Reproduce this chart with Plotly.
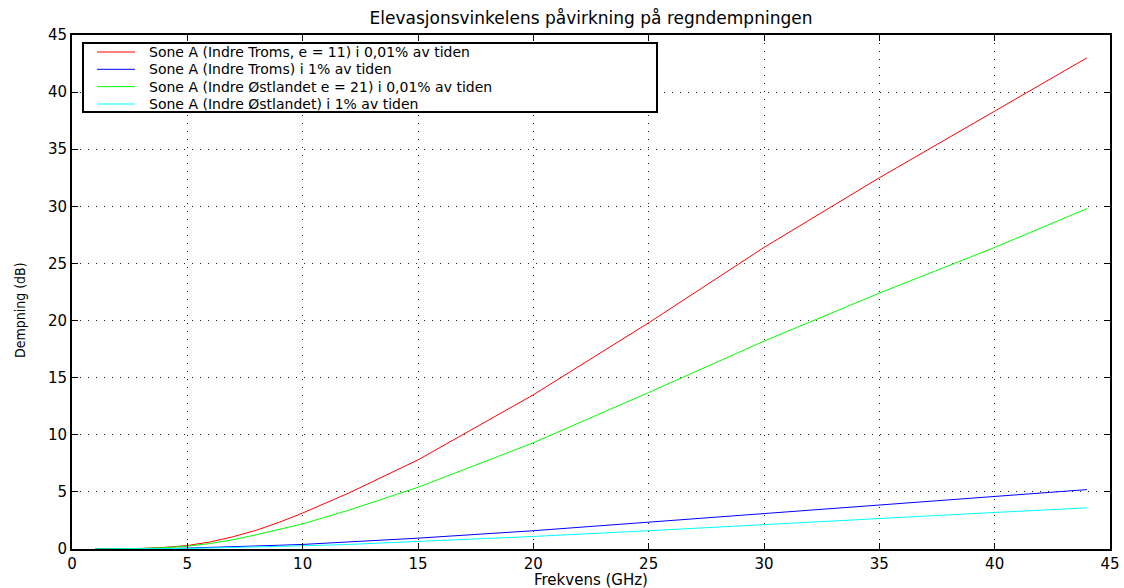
import plotly.graph_objects as go

freq = [1, 2, 3, 4, 5, 6, 7, 8, 9, 10, 12, 15, 20, 25, 30, 35, 40, 44]
red = [0.0, 0.01, 0.05, 0.14, 0.3, 0.62, 1.08, 1.65, 2.35, 3.15, 4.9, 7.8, 13.5, 19.8, 26.4, 32.5, 38.3, 43.0]
blue = [0.0, 0.0, 0.01, 0.04, 0.08, 0.13, 0.2, 0.26, 0.33, 0.4, 0.6, 0.95, 1.6, 2.35, 3.15, 3.9, 4.6, 5.2]
green = [0.0, 0.01, 0.04, 0.12, 0.25, 0.48, 0.82, 1.25, 1.7, 2.2, 3.4, 5.4, 9.3, 13.7, 18.2, 22.4, 26.4, 29.8]
cyan = [0.0, 0.0, 0.01, 0.03, 0.05, 0.09, 0.13, 0.18, 0.23, 0.28, 0.4, 0.65, 1.1, 1.6, 2.15, 2.7, 3.2, 3.6]

names = [
    "Sone A (Indre Troms, e = 11) i 0,01% av tiden",
    "Sone A (Indre Troms) i 1% av tiden",
    "Sone A (Indre Østlandet e = 21) i 0,01% av tiden",
    "Sone A (Indre Østlandet) i 1% av tiden",
]
colors = ["#ff0000", "#0000ff", "#00ff00", "#00ffff"]
series = [red, blue, green, cyan]

W, H = 1124, 588
L, R, T, B = 72, 1110, 35, 549   # plot area in pixels


def px(xp):
    return (xp - L) / (R - L)


def py(yp):
    return (B - yp) / (B - T)


fig = go.Figure()
for n, c, s in zip(names, colors, series):
    fig.add_trace(go.Scatter(x=freq, y=s, mode="lines", name=n,
                             line=dict(color=c, width=1)))

font = "DejaVu Sans, Liberation Sans, sans-serif"
axis_common = dict(
    showline=True, linecolor="black", linewidth=2, mirror="ticks",
    ticks="inside", ticklen=6, tickcolor="black", tickwidth=1,
    showgrid=True, gridcolor="#222", griddash="1px,7px", gridwidth=1,
    zeroline=False, automargin=False,
    tickfont=dict(family=font, size=15, color="black"),
)
fig.update_xaxes(range=[0, 45], dtick=5, **axis_common)
fig.update_yaxes(range=[0, 45], dtick=5, **axis_common)

shapes = [dict(type="rect", xref="paper", yref="paper",
               x0=px(83), x1=px(657), y0=py(112), y1=py(43),
               line=dict(color="black", width=2), fillcolor="white", layer="above")]
annotations = []
rows = [52, 69.3, 86.6, 104]
for n, c, ry in zip(names, colors, rows):
    shapes.append(dict(type="line", xref="paper", yref="paper",
                       x0=px(97), x1=px(135), y0=py(ry), y1=py(ry),
                       line=dict(color=c, width=1), layer="above"))
    annotations.append(dict(text=n, xref="paper", yref="paper", x=px(147), y=py(ry),
                            xanchor="left", yanchor="middle", showarrow=False,
                            font=dict(family=font, size=14, color="black")))

# axis titles
annotations.append(dict(text="Frekvens (GHz)", xref="paper", yref="paper",
                        x=0.5, y=py(580), xanchor="center", yanchor="middle",
                        showarrow=False, font=dict(family=font, size=15, color="black")))
annotations.append(dict(text="Dempning (dB)", xref="paper", yref="paper",
                        x=px(20), y=py(310), xanchor="center", yanchor="middle",
                        textangle=-90, showarrow=False,
                        font=dict(family="DejaVu Sans Condensed, Liberation Sans Narrow, sans-serif",
                                  size=14, color="black")))

fig.update_layout(
    width=W, height=H,
    margin=dict(l=L, r=W - R, t=T, b=H - B),
    plot_bgcolor="white", paper_bgcolor="white",
    title=dict(text="Elevasjonsvinkelens påvirkning på regndempningen",
               x=0.5, xref="paper", y=1 - 18 / H, yref="container", yanchor="middle",
               font=dict(family=font, size=17, color="black")),
    shapes=shapes, annotations=annotations,
    showlegend=False,
)

fig.write_html("out.html")
